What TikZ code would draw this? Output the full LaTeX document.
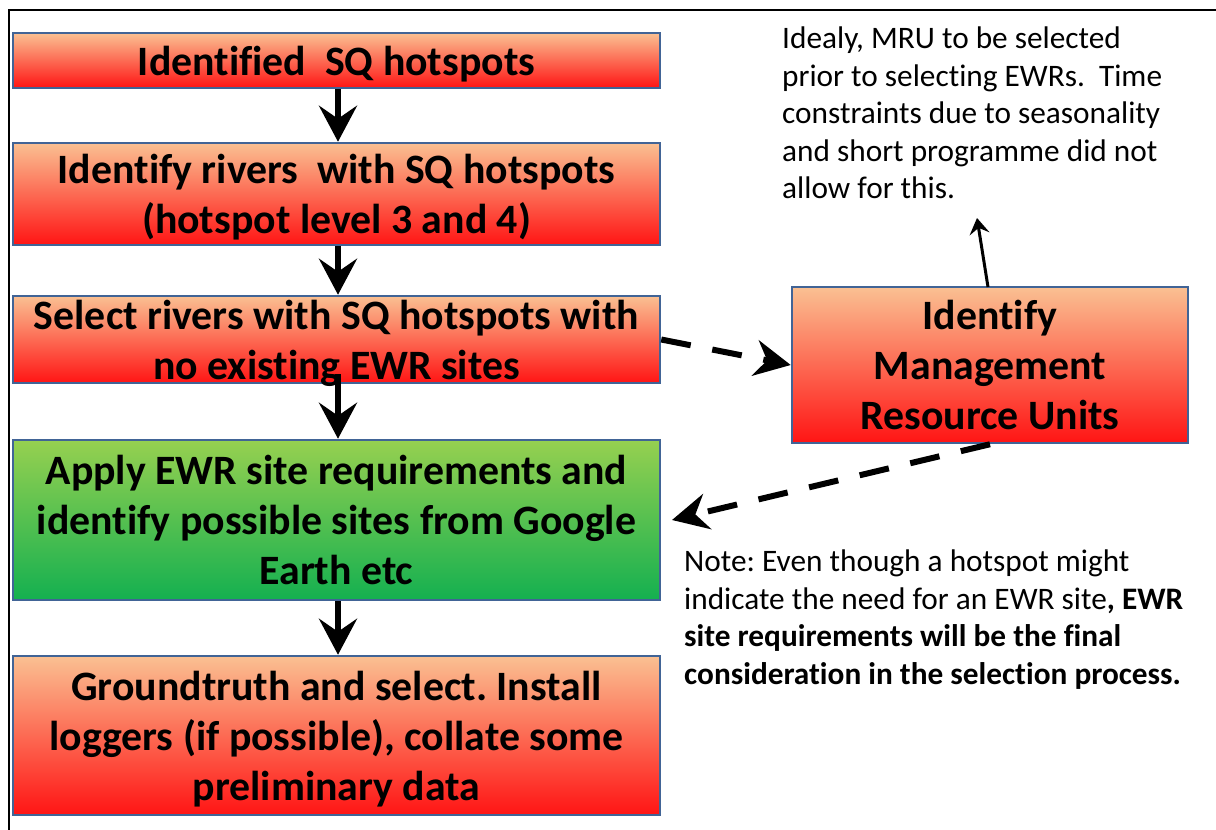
\documentclass[tikz,border=0pt]{standalone}
\usepackage{fontspec}
\setmainfont{Carlito}[Ligatures=CommonOff]
\frenchspacing
\usetikzlibrary{arrows.meta}
\definecolor{peach}{RGB}{250,192,146}
\definecolor{redb}{RGB}{255,20,20}
\definecolor{lgreen}{RGB}{150,208,80}
\definecolor{dgreen}{RGB}{20,176,80}
\definecolor{bord}{RGB}{65,100,150}
\tikzset{
  box/.style={draw=bord, line width=2.5pt, rectangle, align=center, inner sep=0pt, text depth=0pt,
    top color=peach, bottom color=redb, font=\bfseries\fontsize{41.8}{50}\selectfont},
  gbox/.style={box, top color=lgreen, bottom color=dgreen},
  notetext/.style={align=left, anchor=north west, inner sep=0pt, font=\fontsize{31.3}{37.5}\selectfont},
  flowarr/.style={line width=6pt, -{Stealth[length=36pt, width=38pt, inset=13pt]}},
  dasharr/.style={line width=6pt, dash pattern=on 30pt off 22pt, -{Stealth[length=36pt, width=36pt, inset=12pt]}},
  thinarr/.style={line width=3pt, -{Stealth[length=16pt, width=20pt, inset=6pt]}}
}
\begin{document}
\begin{tikzpicture}[x=1pt, y=-1pt]
\useasboundingbox (0,0) rectangle (1216,830);
\draw[line width=2pt] (9,830) -- (9,10) -- (1216,10);

\node[box, minimum width=647pt, minimum height=55pt] (b1) at (336.5,60.5) {Identified\ \ SQ hotspots};
\node[box, minimum width=647pt, minimum height=102pt] (b2) at (336.5,194) {Identify rivers\ \ with SQ hotspots\\(hotspot level 3 and 4)};
\node[box, minimum width=647pt, minimum height=87pt] (b3) at (336.5,339.5) {Select rivers with SQ hotspots with\\no existing EWR sites};
\node[gbox, minimum width=647pt, minimum height=160pt] (b4) at (336.5,520) {Apply EWR site requirements and\\identify possible sites from Google\\Earth etc};
\node[box, minimum width=647pt, minimum height=159pt] (b5) at (336.5,735.5) {Groundtruth and select. Install\\loggers (if possible), collate some\\preliminary data};
\node[box, minimum width=396pt, minimum height=156pt] (b6) at (990,365) {Identify\\Management\\Resource Units};

\node[notetext] (n1) at (782,27) {Idealy, MRU to be selected\\prior to selecting EWRs.\ \ Time\\constraints due to seasonality\\and short programme did not\\allow for this.};
\node[notetext] (n2) at (684,550) {Note: Even though a hotspot might\\indicate the need for an EWR site\textbf{, EWR}\\\textbf{site requirements will be the final}\\\textbf{consideration in the selection process.}};

\coordinate (ax) at (338,0);
\draw[flowarr] (b1.south -| ax) -- (b2.north -| ax);
\draw[flowarr] (b2.south -| ax) -- (b3.north -| ax);
\draw[flowarr] ([yshift=10pt]b3.south -| ax) -- (b4.north -| ax);
\draw[flowarr] (b4.south -| ax) -- (b5.north -| ax);

\coordinate (up) at (977,218);
\coordinate (b6top) at (988,287);
\draw[thinarr] (b6top) -- (up);
\draw[dasharr] (b3.east) -- (b6.west);
\coordinate (b4tip) at (672,520);
\draw[dasharr] (b6.south) -- (b4tip);
\end{tikzpicture}
\end{document}
